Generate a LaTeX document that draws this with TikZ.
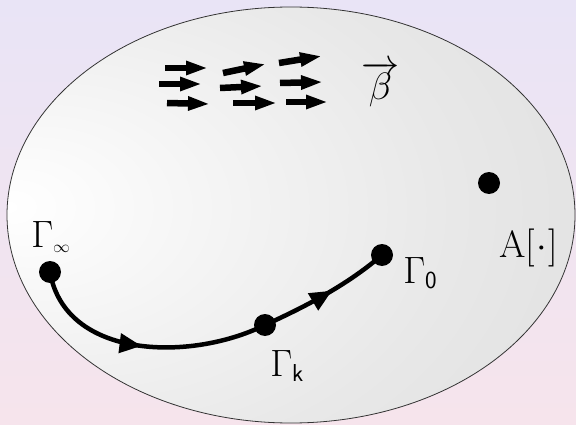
\documentclass[tikz,border=0pt]{standalone}
\usetikzlibrary{arrows.meta,decorations.markings,positioning}
\DeclareMathSizes{24.88}{24.88}{13}{11}
\newcommand{\sfsub}[1]{\hbox{\fontsize{16}{16}\selectfont\sffamily #1}}

\definecolor{bgtop}{RGB}{233,228,246}
\definecolor{bgbot}{RGB}{246,228,236}
\pgfdeclareradialshading{blobshade}{\pgfpoint{-25bp}{1bp}}{color(0bp)=(white); color(30bp)=(black!9); color(80bp)=(black!20)}

\begin{document}
\begin{tikzpicture}[x=1pt, y=1pt,
    dot/.style={circle, fill=black, inner sep=0pt, minimum size=22pt},
    lbl/.style={inner sep=0pt, font=\Huge, scale=1.53},
    field/.style={line width=6.5pt, -{Triangle[length=22pt, width=13pt]}},
    flow/.style={line width=4.5pt, postaction=decorate, decoration={markings, mark=at position #1 with {\arrow{Triangle[length=22pt, width=19pt]}}}}
]
% Background
\shade[top color=bgtop, bottom color=bgbot] (0,0) rectangle (576,424);
% Region
\shadedraw[shading=blobshade, draw=black!80, line width=0.8pt] (291,209) ellipse [x radius=284, y radius=208];
% Field
\foreach \xa/\ya/\xb/\yb in {165/356/208/356, 223/351/266/360, 279/361/322/368,
    159/340/202/340, 220/336/263/338, 280/341/323/342,
    167/321/210/320, 233/321/277/321, 286/322/328/322}
  \draw[field] (\xa,\ya) -- (\xb,\yb);
\node[lbl, anchor=base west] (beta) at (361,324) {$\overrightarrow{\beta}$};
% Points
\node[dot] (ginf) at (50,152) {};
\node[dot] (gk) at (265,99) {};
\node[dot] (g0) at (382,169) {};
\node[dot] (ptA) at (489,241) {};
% Labels
\node[lbl, anchor=base west] (ginflbl) at (31,177) {$\Gamma_{\scriptscriptstyle\infty}$};
\node[lbl, anchor=base west] (gklbl) at (270,48) {$\Gamma_{\sfsub{k}}$};
\node[lbl, anchor=base west] (g0lbl) at (403,141) {$\Gamma_{\sfsub{0}}$};
\node[lbl, anchor=base west] (ptAlbl) at (499,167) {A[\kern1pt$\cdot$\kern1pt]};
% Path
\draw[flow=0.5] (ginf.center) .. controls (65,65) and (190,62) .. (gk.center);
\draw[flow=0.55] (gk.center) .. controls (300,115) and (345,137) .. (g0.center);
\end{tikzpicture}
\end{document}
